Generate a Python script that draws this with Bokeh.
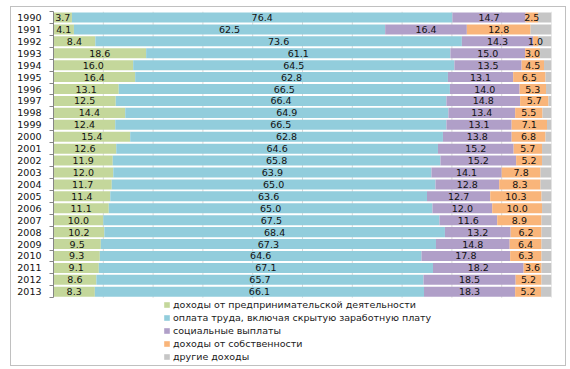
from bokeh.plotting import figure
from bokeh.models import Range1d, FixedTicker, Legend, LegendItem, ColumnDataSource
from bokeh.core.properties import value
from bokeh.embed import file_html
from bokeh.resources import INLINE

years = [1990, 1991, 1992, 1993, 1994, 1995, 1996, 1997, 1998, 1999, 2000, 2001,
         2002, 2003, 2004, 2005, 2006, 2007, 2008, 2009, 2010, 2011, 2012, 2013]
entrepreneurial = [3.7, 4.1, 8.4, 18.6, 16.0, 16.4, 13.1, 12.5, 14.4, 12.4, 15.4, 12.6,
                   11.9, 12.0, 11.7, 11.4, 11.1, 10.0, 10.2, 9.5, 9.3, 9.1, 8.6, 8.3]
wages = [76.4, 62.5, 73.6, 61.1, 64.5, 62.8, 66.5, 66.4, 64.9, 66.5, 62.8, 64.6,
         65.8, 63.9, 65.0, 63.6, 65.0, 67.5, 68.4, 67.3, 64.6, 67.1, 65.7, 66.1]
social = [14.7, 16.4, 14.3, 15.0, 13.5, 13.1, 14.0, 14.8, 13.4, 13.1, 13.8, 15.2,
          15.2, 14.1, 12.8, 12.7, 12.0, 11.6, 13.2, 14.8, 17.8, 18.2, 18.5, 18.3]
property_income = [2.5, 12.8, 1.0, 3.0, 4.5, 6.5, 5.3, 5.7, 5.5, 7.1, 6.8, 5.7,
                   5.2, 7.8, 8.3, 10.3, 10.0, 8.9, 6.2, 6.4, 6.3, 3.6, 5.2, 5.2]
other = [2.7, 4.2, 2.7, 2.3, 1.5, 1.2, 1.1, 0.6, 1.8, 0.9, 1.2, 1.9,
         1.9, 2.2, 2.2, 2.0, 1.9, 2.0, 2.0, 2.0, 2.0, 2.0, 2.0, 2.1]

series_names = [
    "доходы от предпринимательской деятельности",
    "оплата труда, включая скрытую заработную плату",
    "социальные выплаты",
    "доходы от собственности",
    "другие доходы",
]
series_values = [entrepreneurial, wages, social, property_income, other]
colors = ["#C4D79B", "#92CDDC", "#B09FC8", "#F9B57A", "#C6C6C6"]
show_labels = [True, True, True, True, False]
grid_x = [10, 20, 30, 40, 50, 60, 70, 80, 90, 100]

FONT = "DejaVu Sans"
n = len(years)
idx = list(range(n))
legend_space = 5.6  # extra category units below the bars reserved for the legend

p = figure(width=554, height=358, output_backend="svg", toolbar_location=None,
           x_range=Range1d(0, 100), y_range=Range1d(n - 0.5 + legend_space, -0.5),
           min_border_left=42, min_border_right=14, min_border_top=4,
           min_border_bottom=1)
p.styles = {"outline": "1px solid #c0c0c0", "outline-offset": "0px",
            "margin-left": "11px", "margin-top": "7px"}
p.outline_line_color = None
p.background_fill_color = "white"
p.border_fill_color = "white"

p.xaxis.visible = False
p.xgrid.visible = False
p.ygrid.visible = False

# vertical gridlines, limited to the bar area
p.segment(x0=grid_x, x1=grid_x, y0=[-0.5] * len(grid_x), y1=[n - 0.5] * len(grid_x),
          line_color="#d9d9d9", line_width=1, level="underlay")

yax = p.yaxis[0]
yax.bounds = (-0.5, n - 0.5)
yax.ticker = FixedTicker(ticks=idx, minor_ticks=[i - 0.5 for i in range(n + 1)])
yax.major_label_overrides = {i: str(y) for i, y in zip(idx, years)}
yax.major_tick_out = 0
yax.major_tick_in = 0
yax.minor_tick_out = 4
yax.minor_tick_in = 0
yax.minor_tick_line_color = "#868686"
yax.axis_line_color = "#868686"
yax.major_label_text_font = FONT
yax.major_label_text_font_size = "9.5px"
yax.major_label_text_color = "#111111"
yax.major_label_standoff = 8

left = [0.0] * n
items = []
label_sources = []
for name, vals, col, lab in zip(series_names, series_values, colors, show_labels):
    right = [a + b for a, b in zip(left, vals)]
    mid = [a + b / 2 for a, b in zip(left, vals)]
    src = ColumnDataSource(dict(y=idx, left=left, right=right, mid=mid,
                                txt=["%.1f" % v for v in vals]))
    r = p.hbar(y="y", left="left", right="right", height=0.84, source=src,
               fill_color=col, line_color=None)
    items.append(LegendItem(label=name, renderers=[r]))
    if lab:
        label_sources.append(src)
    left = right

# value labels drawn on top of all bars
for src in label_sources:
    p.text(x="mid", y="y", text="txt", source=src, text_align="center",
           text_baseline="middle", text_font=value(FONT),
           text_font_size="9.5px", text_color="#111111")

legend = Legend(items=items, location=(110, 1), orientation="vertical",
                glyph_width=7, glyph_height=7, label_height=13, label_standoff=3,
                spacing=0, padding=0, margin=0, border_line_color=None,
                background_fill_alpha=0, label_text_font=FONT,
                label_text_font_size="9.5px", label_text_color="#1a1a1a")
p.add_layout(legend, "center")

open("out.html", "w").write(file_html(p, INLINE))
